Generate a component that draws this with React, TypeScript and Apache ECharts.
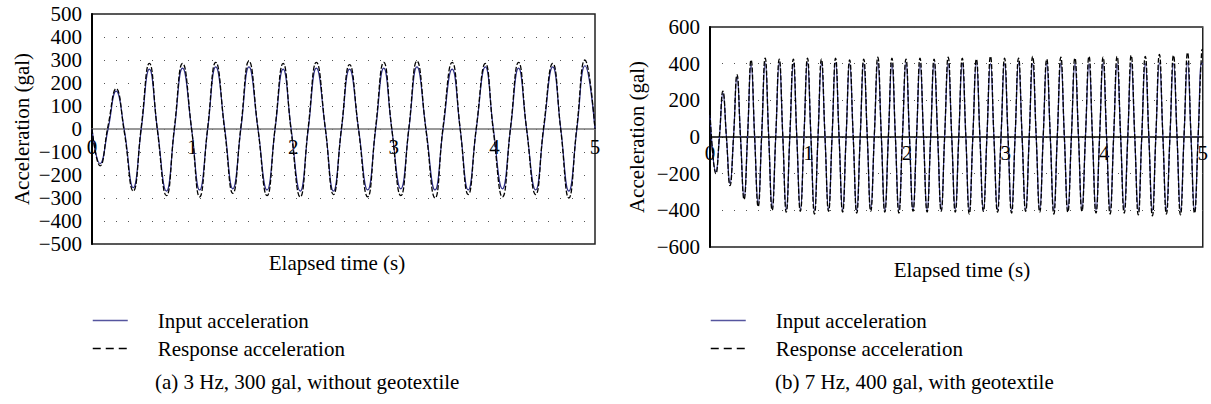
import React, { useEffect, useRef } from "react";
import * as echarts from "echarts";

const FONT = "Liberation Serif, DejaVu Serif, serif";
const FS = 21;

// ---------- Panel (a): 3 Hz, 300 gal, without geotextile ----------
const leftTime = [
  0, 0.08, 0.16, 0.24, 0.32, 0.41, 0.49, 0.57, 0.65, 0.74, 0.82, 0.9, 0.99, 1.07, 1.15, 1.23,
  1.32, 1.4, 1.48, 1.56, 1.65, 1.74, 1.82, 1.9, 1.98, 2.07, 2.15, 2.23, 2.32, 2.4, 2.48, 2.56,
  2.65, 2.74, 2.82, 2.9, 2.98, 3.07, 3.15, 3.23, 3.32, 3.41, 3.49, 3.58, 3.66, 3.74, 3.82, 3.91,
  3.99, 4.08, 4.16, 4.24, 4.32, 4.41, 4.49, 4.58, 4.66, 4.74, 4.82, 4.9, 5.0,
];
const leftInput = [
  0, -150, 0, 165, 0, -255, 0, 260, 0, -270, 0, 265, 0, -265, 0, 270,
  0, -260, 0, 270, 0, -265, 0, 260, 0, -270, 0, 265, 0, -270, 0, 260,
  0, -265, 0, 265, 0, -260, 0, 270, 0, -265, 0, 260, 0, -265, 0, 270,
  0, -260, 0, 265, 0, -265, 0, 270, 0, -270, 0, 275, 0,
];
const leftResponse = [
  0, -160, 15, 175, -10, -270, 10, 285, -5, -290, 10, 285, 0, -295, 5, 290,
  -10, -280, 10, 295, 0, -290, 5, 285, -10, -295, 10, 290, 0, -285, 5, 280,
  -5, -295, 10, 290, 0, -290, 5, 295, -5, -300, 10, 290, 0, -285, 5, 285,
  -10, -295, 5, 290, 0, -285, 10, 285, -5, -300, 10, 300, 0,
];
const leftYTicks = { min: -500, max: 500, step: 100 };

// ---------- Panel (b): 7 Hz, 400 gal, with geotextile ----------
const rightTime = [
  0,
  0.06, 0.096, 0.131, 0.167, 0.203, 0.239, 0.274, 0.31, 0.346, 0.381, 0.417, 0.453, 0.489, 0.524,
  0.56, 0.596, 0.631, 0.667, 0.703, 0.739, 0.774, 0.81, 0.846, 0.881, 0.917, 0.953, 0.989, 1.024,
  1.06, 1.096, 1.131, 1.167, 1.203, 1.239, 1.274, 1.31, 1.346, 1.381, 1.417, 1.453, 1.489, 1.524,
  1.56, 1.596, 1.631, 1.667, 1.703, 1.739, 1.774, 1.81, 1.846, 1.881, 1.917, 1.953, 1.989, 2.024,
  2.06, 2.096, 2.131, 2.167, 2.203, 2.239, 2.274, 2.31, 2.346, 2.381, 2.417, 2.453, 2.489, 2.524,
  2.56, 2.596, 2.631, 2.667, 2.703, 2.739, 2.774, 2.81, 2.846, 2.881, 2.917, 2.953, 2.989, 3.024,
  3.06, 3.096, 3.131, 3.167, 3.203, 3.239, 3.274, 3.31, 3.346, 3.381, 3.417, 3.453, 3.489, 3.524,
  3.56, 3.596, 3.631, 3.667, 3.703, 3.739, 3.774, 3.81, 3.846, 3.881, 3.917, 3.953, 3.989, 4.024,
  4.06, 4.096, 4.131, 4.167, 4.203, 4.239, 4.274, 4.31, 4.346, 4.381, 4.417, 4.453, 4.489, 4.524,
  4.56, 4.596, 4.631, 4.667, 4.703, 4.739, 4.774, 4.81, 4.846, 4.881, 4.917, 4.953, 4.989,
  5.0,
];
const rightInput = [
  120,
  -190, 0, 240, 0, -255, 0, 330, 0, -330, 0, 395, 0, -365, 0, 405, 0, -385, 0, 405, 0, -395, 0, 400, 0, -395, 0, 405, 0,
  -400, 0, 400, 0, -395, 0, 405, 0, -400, 0, 400, 0, -400, 0, 400, 0, -395, 0, 405, 0, -400, 0, 400, 0, -400, 0, 405, 0,
  -395, 0, 400, 0, -400, 0, 405, 0, -400, 0, 400, 0, -395, 0, 400, 0, -400, 0, 405, 0, -400, 0, 400, 0, -395, 0, 400, 0,
  -400, 0, 405, 0, -400, 0, 400, 0, -395, 0, 400, 0, -400, 0, 405, 0, -400, 0, 400, 0, -395, 0, 400, 0, -400, 0, 405, 0,
  -400, 0, 400, 0, -395, 0, 405, 0, -400, 0, 400, 0, -400, 0, 405, 0, -395, 0, 400, 0, -400, 0, 405, 0, -400, 0, 405,
  395,
];
const rightResponse = [
  130,
  -200, 10, 250, -5, -265, 5, 340, -10, -340, 5, 420, 0, -380, 10, 430, -5, -400, 5, 425, 0, -410, 10, 425, -5, -405, 0, 430, 5,
  -420, 5, 425, 0, -405, 10, 430, -5, -410, 0, 420, 5, -415, -5, 425, 0, -405, 5, 435, -5, -410, 0, 430, 5, -415, 10, 425, 0,
  -405, 5, 430, -5, -410, 0, 425, 10, -405, 5, 435, 0, -410, -5, 430, 5, -420, 0, 425, -5, -405, 5, 440, 0, -410, 0, 430, 5,
  -415, 5, 430, 0, -405, -5, 440, 5, -410, 0, 425, 0, -420, 5, 435, -5, -410, 0, 430, 5, -405, 10, 440, 0, -415, -5, 435, 5,
  -420, 5, 440, 0, -415, -5, 445, 5, -425, 0, 440, 0, -430, 5, 450, -5, -420, 0, 445, 5, -425, 5, 460, 0, -415, 0, 470,
  480,
];
const rightYTicks = { min: -600, max: 600, step: 200 };

const xTicks = { min: 0, max: 5, step: 1 };
const seriesNames = ["Input acceleration", "Response acceleration"];
const captions = ["(a) 3 Hz, 300 gal, without geotextile", "(b) 7 Hz, 400 gal, with geotextile"];
const xTitle = "Elapsed time (s)";
const yTitle = "Acceleration (gal)";

const INPUT_COLOR = "#2e2e85";

const pairs = (t: number[], v: number[]) => t.map((x, i) => [x, v[i]]);
const minusFmt = (v: number) => (v < 0 ? "\u2212" + Math.abs(v) : String(v));

const textEl = (text: string, x: number, y: number, align: string, rotation = 0) => ({
  type: "text",
  x,
  y,
  rotation,
  silent: true,
  style: {
    text,
    fill: "#000",
    fontFamily: FONT,
    fontSize: FS,
    textAlign: align,
    align,
    textVerticalAlign: "middle",
    verticalAlign: "middle",
  },
});

const makeYAxis = (grid: number, t: { min: number; max: number; step: number }) => ({
  type: "value",
  gridIndex: grid,
  min: t.min,
  max: t.max,
  interval: t.step,
  axisLine: { show: true, lineStyle: { color: "#000", width: 2 } },
  axisTick: { show: false },
  axisLabel: { color: "#000", fontFamily: FONT, fontSize: FS, margin: 10, formatter: minusFmt },
  splitLine: { show: true, lineStyle: { color: "#555", width: 1, type: [1, 11] } },
});

// labels sit just under the zero line, which is half-way up each plot
const makeXAxis = (grid: number, lineColor: string, margin: number) => ({
  type: "value",
  gridIndex: grid,
  min: xTicks.min,
  max: xTicks.max,
  interval: xTicks.step,
  axisLine: { show: true, onZero: true, lineStyle: { color: lineColor, width: 1.5 } },
  axisTick: { show: false },
  axisLabel: { color: "#000", fontFamily: FONT, fontSize: FS, margin, showMinLabel: true, showMaxLabel: true },
  splitLine: { show: false },
});

const lineSeries = (name: string, grid: number, data: number[][], response: boolean) => ({
  type: "line",
  name,
  xAxisIndex: grid,
  yAxisIndex: grid,
  data,
  smooth: true,
  symbol: "none",
  z: response ? 3 : 2,
  lineStyle: response
    ? { color: "#000", width: 1.3, type: [5, 2] }
    : { color: INPUT_COLOR, width: 1.2, type: "solid" },
  itemStyle: { color: response ? "#000" : INPUT_COLOR },
});

const makeLegend = (left: number) => ({
  left,
  top: 310,
  padding: 0,
  orient: "vertical",
  itemWidth: 35,
  itemHeight: 20,
  itemGap: 7,
  data: [
    { name: seriesNames[0], lineStyle: { color: "#55559e", width: 1.5, type: "solid" } },
    { name: seriesNames[1], lineStyle: { color: "#000", width: 1.5, type: [8, 5] } },
  ],
  selectedMode: false,
  itemStyle: { opacity: 0, borderWidth: 0 },
  textStyle: { color: "#000", fontFamily: FONT, fontSize: FS, padding: [0, 0, 0, 25] },
});

const option = {
  animation: false,
  backgroundColor: "#fff",
  grid: [
    { left: 92, top: 14, width: 503, height: 230, show: true, borderColor: "#222", borderWidth: 1.5, backgroundColor: "transparent" },
    { left: 710, top: 27, width: 497, height: 220, show: true, borderColor: "#222", borderWidth: 1.5, backgroundColor: "transparent" },
  ],
  xAxis: [makeXAxis(0, "#777", -108), makeXAxis(1, "#000", -105)],
  yAxis: [makeYAxis(0, leftYTicks), makeYAxis(1, rightYTicks)],
  legend: [makeLegend(92), makeLegend(710)],
  series: [
    lineSeries(seriesNames[0], 0, pairs(leftTime, leftInput), false),
    lineSeries(seriesNames[1], 0, pairs(leftTime, leftResponse), true),
    lineSeries(seriesNames[0], 1, pairs(rightTime, rightInput), false),
    lineSeries(seriesNames[1], 1, pairs(rightTime, rightResponse), true),
  ],
  graphic: [
    textEl(yTitle, 22, 129, "center", Math.PI / 2),
    textEl(yTitle, 637, 137, "center", Math.PI / 2),
    textEl(xTitle, 337, 263, "center"),
    textEl(xTitle, 962, 270, "center"),
    textEl(captions[0], 155, 382, "left"),
    textEl(captions[1], 775, 382, "left"),
  ],
};

export default function App() {
  const ref = useRef<HTMLDivElement>(null);
  useEffect(() => {
    document.body.style.margin = "0";
    const chart = echarts.init(ref.current as HTMLDivElement, null, { renderer: "svg" });
    chart.setOption(option as any);
    return () => chart.dispose();
  }, []);
  return <div ref={ref} style={{ width: 1211, height: 404 }} />;
}
